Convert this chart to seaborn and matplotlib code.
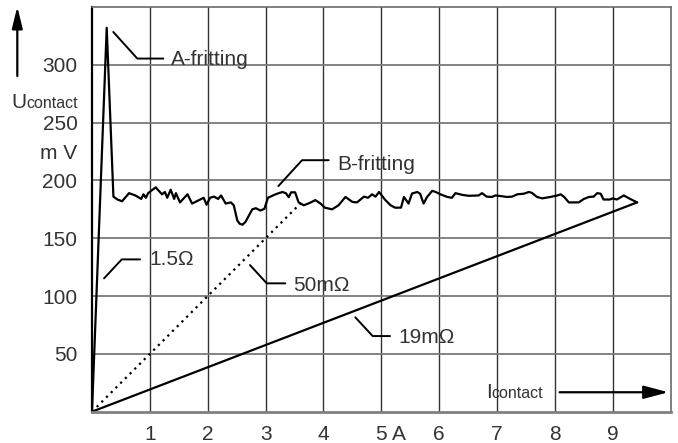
import numpy as np
import pandas as pd
import seaborn as sns
import matplotlib.pyplot as plt

# contact voltage trace (A, mV)
trace_i = [0, 0.254, 0.37, 0.44, 0.52, 0.64, 0.75, 0.85, 0.89, 0.93, 0.97, 1.10, 1.21, 1.26, 1.30,
           1.36, 1.42, 1.45, 1.52, 1.65, 1.73, 1.85, 1.93, 1.98, 2.04, 2.11, 2.18, 2.23, 2.31, 2.40,
           2.45, 2.51, 2.55, 2.60, 2.65, 2.77, 2.83, 2.91, 2.98, 3.04, 3.17, 3.29, 3.35, 3.40, 3.44,
           3.51, 3.57, 3.66, 3.76, 3.86, 3.95, 4.02, 4.15, 4.26, 4.38, 4.50, 4.58, 4.70, 4.77, 4.84,
           4.90, 4.96, 5.07, 5.16, 5.24, 5.34, 5.39, 5.47, 5.53, 5.62, 5.67, 5.73, 5.79, 5.88, 5.94,
           6.02, 6.14, 6.22, 6.28, 6.40, 6.51, 6.68, 6.74, 6.82, 6.91, 6.97, 7.06, 7.17, 7.26, 7.35,
           7.46, 7.55, 7.60, 7.69, 7.78, 7.92, 8.04, 8.10, 8.16, 8.24, 8.41, 8.50, 8.59, 8.67, 8.73,
           8.79, 8.84, 8.95, 9.00, 9.07, 9.19, 9.28, 9.42]
trace_u = [0, 332, 186, 183.5, 182, 189, 187, 184, 188, 185, 189, 194, 188, 190, 185,
           192, 184, 189, 181, 188, 180, 183, 185, 179, 185, 186, 184, 187, 180, 181,
           178.5, 165.5, 162.6, 161.7, 164, 175, 176, 174, 175.5, 185, 188, 190, 189, 185.5, 189.7,
           189.7, 181, 178.5, 180.5, 183, 180, 176.5, 175, 178.5, 185.7, 181.4, 181, 186, 185, 188,
           186, 190, 183, 178.5, 176.4, 176.5, 185.7, 180, 188.7, 190, 188.5, 180, 185.7, 191, 190,
           188, 185.7, 185, 189, 187.5, 186.7, 187, 189, 186, 185.7, 187, 186.5, 185.7, 186, 188,
           188.5, 190, 189.3, 185.7, 184.5, 185.7, 187, 188, 185.7, 181, 181, 184, 185.7, 186, 189,
           188.5, 183.5, 183.5, 184.5, 183.5, 187, 184.5, 181]

# resistance lines
r50_i = [0, 3.62]
r50_u = [0, 181]
r19_i = [0, 9.42]
r19_u = [0, 181]

x_ticks = [1, 2, 3, 4, 5, 6, 7, 8, 9]
x_labels = ['1', '2', '3', '4', '5', '6', '7', '8', '9']
y_ticks = [50, 100, 150, 200, 250, 300]
y_labels = ['50', '100', '150', '200', '250', '300']

sns.set_style('white')
plt.rcParams['font.family'] = ['Liberation Sans', 'DejaVu Sans']
txt_col = '#333333'
fs = 15
fs_small = 11.5
xpad = 9.5

fig = plt.figure(figsize=(6.78, 4.43), dpi=100)
ax = fig.add_axes([0.1357, 0.0707, 0.8535, 0.9135])

trace = pd.DataFrame({'I': trace_i, 'U': trace_u})
sns.lineplot(data=trace, x='I', y='U', sort=False, estimator=None, color='black', lw=1.6, ax=ax)
sns.lineplot(x=r19_i, y=r19_u, sort=False, estimator=None, color='black', lw=1.6, ax=ax)
sns.lineplot(x=r50_i, y=r50_u, sort=False, estimator=None, color='black', lw=1.6,
             linestyle=(0, (1, 2.0)), ax=ax)

ax.set_xlim(0, 10)
ax.set_ylim(0, 350)
ax.set_xticks(x_ticks)
ax.set_xticklabels(x_labels, fontsize=fs, color=txt_col)
ax.set_yticks(y_ticks)
ax.set_yticklabels(y_labels, fontsize=fs, color=txt_col)
ax.tick_params(axis='x', length=0, pad=xpad)
ax.tick_params(axis='y', length=0, pad=10.5)
ax.set_xlabel('')
ax.set_ylabel('')
ax.set_axisbelow(True)
ax.xaxis.grid(True, color='#333333', lw=1.0)
ax.yaxis.grid(True, color='#7a7a7a', lw=1.3)

ax.spines['left'].set_color('black')
ax.spines['left'].set_linewidth(1.6)
ax.spines['bottom'].set_color('#808080')
ax.spines['bottom'].set_linewidth(2)
for s in ['top', 'right']:
    ax.spines[s].set_color('#6a6a6a')
    ax.spines[s].set_linewidth(1.2)

# unit next to the 5 tick, on the tick label line
ax.annotate('A', xy=(5.31, 0), xycoords=('data', 'axes fraction'),
            xytext=(0, -xpad), textcoords='offset points', ha='center', va='top',
            fontsize=fs, color=txt_col)

# leader lines with labels
def leader(pts, label, tx, ty):
    xs, ys = zip(*pts)
    ax.plot(xs, ys, color='black', lw=1.4)
    ax.text(tx, ty, label, ha='left', va='baseline', fontsize=fs, color=txt_col)

leader([(0.368, 328.4), (0.783, 305.4), (1.233, 305.4)], 'A-fritting', 1.366, 299.7)
leader([(3.22, 195.1), (3.63, 217.5), (4.09, 217.5)], 'B-fritting', 4.23, 208.9)
leader([(0.208, 115.3), (0.514, 131.7), (0.830, 131.7)], '1.5\u03a9', 0.991, 126.8)
leader([(2.73, 126.8), (3.02, 111.0), (3.34, 111.0)], '50m\u03a9', 3.48, 104.3)
leader([(4.55, 81.6), (4.85, 65.4), (5.15, 65.4)], '19m\u03a9', 5.30, 59.1)

# current axis label with arrow
ax.text(6.81, 11.6, 'I', ha='left', va='baseline', fontsize=fs, color=txt_col)
ax.text(6.91, 11.6, 'contact', ha='left', va='baseline', fontsize=fs_small, color=txt_col)
ax.annotate('', xy=(9.96, 16.8), xytext=(8.08, 16.8),
            arrowprops=dict(arrowstyle='-|>,head_length=0.75,head_width=0.2', mutation_scale=20,
                            lw=1.6, color='black', shrinkA=0, shrinkB=0))

# voltage axis label with arrow
W, H = 678.0, 443.0
fig.text(26.5 / W, 1 - 108.3 / H, 'U', ha='right', va='baseline', fontsize=fs, color=txt_col)
fig.text(26.8 / W, 1 - 108.3 / H, 'contact', ha='left', va='baseline', fontsize=fs_small, color=txt_col)
fig.text(77.3 / W, 1 - 159.3 / H, 'm V', ha='right', va='baseline', fontsize=fs, color=txt_col)
ax.annotate('', xy=(17.3 / W, 1 - 6.7 / H), xytext=(17.3 / W, 1 - 76 / H),
            xycoords='figure fraction', textcoords='figure fraction',
            arrowprops=dict(arrowstyle='-|>,head_length=0.65,head_width=0.16', mutation_scale=20,
                            lw=1.6, color='black', shrinkA=0, shrinkB=0))

fig.savefig('out.png', dpi=100)
